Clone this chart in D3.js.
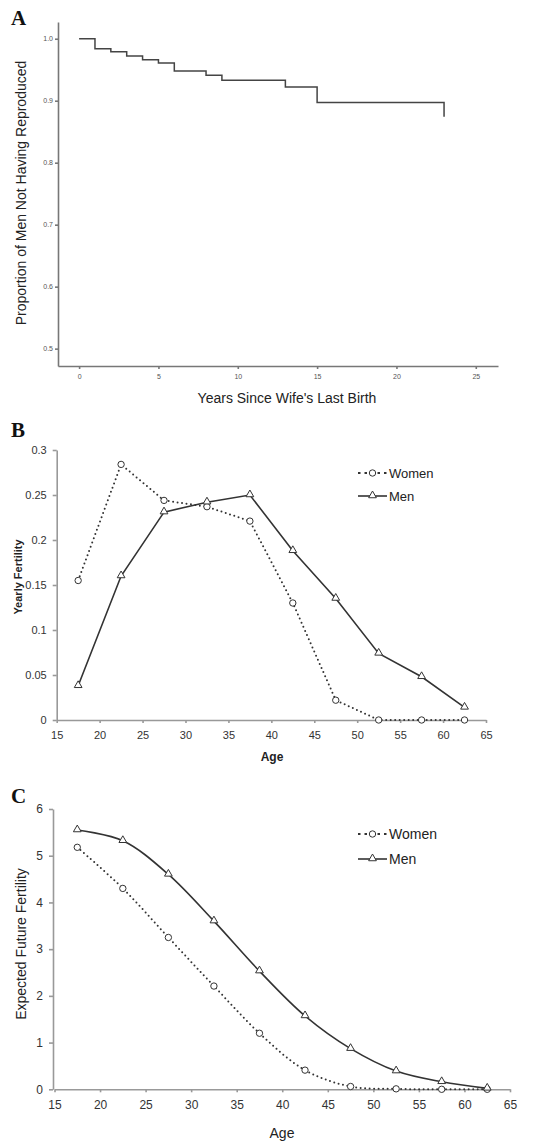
<!DOCTYPE html>
<html>
<head>
<meta charset="utf-8">
<script src="https://cdn.jsdelivr.net/npm/d3@7"></script>
<style>
  body { margin: 0; background: #fff; }
  svg { display: block; font-family: "Liberation Sans", Arial, sans-serif; }
  .panel-letter { font-family: "Liberation Serif", "Times New Roman", serif; font-weight: bold; font-size: 21px; fill: #111; }
  .axisA path, .axisA line { stroke: #777; stroke-width: 1.6; }
  .axisA text { font-size: 7px; fill: #555; }
  .axisBC path, .axisBC line { stroke: #999; stroke-width: 1.6; }
  .axisBC text { fill: #333; }
</style>
</head>
<body>
<svg width="552" height="1141"></svg>
<script>
// Panel A: survival curve (step function)
const stepYears = [0, 1, 2, 3, 4, 5, 6, 8, 9, 13, 15, 23];
const stepProportion = [1.0, 0.984, 0.979, 0.972, 0.966, 0.961, 0.948, 0.941, 0.933, 0.922, 0.897, 0.874];
const ticksAX = [0, 5, 10, 15, 20, 25];
const ticksAY = [0.5, 0.6, 0.7, 0.8, 0.9, 1.0];

// Panels B and C: age groups
const ages = [17.5, 22.5, 27.5, 32.5, 37.5, 42.5, 47.5, 52.5, 57.5, 62.5];
const yearlyWomen = [0.155, 0.284, 0.244, 0.237, 0.221, 0.130, 0.022, 0, 0, 0];
const yearlyMen = [0.038, 0.160, 0.231, 0.242, 0.250, 0.188, 0.135, 0.074, 0.048, 0.014];
const futureWomen = [5.18, 4.30, 3.25, 2.21, 1.20, 0.41, 0.06, 0.01, 0, 0];
const futureMen = [5.55, 5.32, 4.60, 3.60, 2.53, 1.57, 0.87, 0.39, 0.16, 0.02];
const ticksAge = [15, 20, 25, 30, 35, 40, 45, 50, 55, 60, 65];
const ticksBY = [0, 0.05, 0.1, 0.15, 0.2, 0.25, 0.3];
const ticksBLabels = ["0", "0.05", "0.1", "0.15", "0.2", "0.25", "0.3"];
const ticksCY = [0, 1, 2, 3, 4, 5, 6];
const seriesNames = ["Women", "Men"];

const svg = d3.select("svg");
const ink = "#333";

// ---------- Panel A ----------
const xA = d3.scaleLinear().domain([-1.33, 26.4]).range([58, 498]);
const yA = d3.scaleLinear().domain([0.472, 1.027]).range([366, 22]);

svg.append("text").attr("class", "panel-letter").attr("x", 11).attr("y", 25).text("A");

svg.append("g")
    .attr("class", "axisA")
    .attr("transform", "translate(0,366)")
    .call(d3.axisBottom(xA).tickValues(ticksAX).tickSize(3).tickSizeOuter(0).tickPadding(5))
    .call(g => g.selectAll(".tick line").attr("stroke-width", 1));

svg.append("g")
    .attr("class", "axisA")
    .attr("transform", "translate(58,0)")
    .call(d3.axisLeft(yA).tickValues(ticksAY).tickFormat(d3.format(".1f")).tickSize(3).tickSizeOuter(0).tickPadding(2))
    .call(g => g.selectAll(".tick line").attr("stroke-width", 1));

const stepData = stepYears.map((d, i) => ({ x: d, y: stepProportion[i] }));
svg.append("path")
    .datum(stepData)
    .attr("fill", "none")
    .attr("stroke", "#444")
    .attr("stroke-width", 1.5)
    .attr("d", d3.line().x(d => xA(d.x)).y(d => yA(d.y)).curve(d3.curveStepAfter));

svg.append("text")
    .attr("transform", "translate(26,193) rotate(-90)")
    .attr("text-anchor", "middle")
    .attr("font-size", 14)
    .attr("fill", "#222")
    .text("Proportion of Men Not Having Reproduced");

svg.append("text")
    .attr("x", 287).attr("y", 403)
    .attr("text-anchor", "middle")
    .attr("font-size", 14)
    .attr("fill", "#222")
    .text("Years Since Wife's Last Birth");

// ---------- helpers for B and C ----------
function drawSeries(g, x, y, values, women, curve) {
    const pts = ages.map((a, i) => ({ x: a, y: values[i] }));
    g.append("path")
        .datum(pts)
        .attr("fill", "none")
        .attr("stroke", ink)
        .attr("stroke-width", women ? 2 : 1.6)
        .attr("stroke-linecap", "round")
        .attr("stroke-dasharray", women ? "0,4.5" : null)
        .attr("d", d3.line().x(d => x(d.x)).y(d => y(d.y)).curve(curve));
    drawMarkers(g, pts.map(d => [x(d.x), y(d.y)]), women);
}

function drawMarkers(g, coords, women) {
    const sym = women ? d3.symbolCircle : d3.symbolTriangle;
    const size = women ? 32 : 26;
    g.selectAll(null)
        .data(coords)
        .join("path")
        .attr("transform", d => `translate(${d[0]},${d[1] + (women ? 0 : -0.5)})`)
        .attr("d", d3.symbol().type(sym).size(size))
        .attr("fill", "#fff")
        .attr("stroke", ink)
        .attr("stroke-width", 1);
}

function drawLegend(g, x0, yWomen, yMen, fontSize) {
    seriesNames.forEach((name, i) => {
        const women = i === 0;
        const yy = women ? yWomen : yMen;
        g.append("line")
            .attr("x1", x0).attr("x2", x0 + 29)
            .attr("y1", yy).attr("y2", yy)
            .attr("stroke", ink)
            .attr("stroke-width", women ? 2 : 1.6)
            .attr("stroke-dasharray", women ? "2.5,4" : null);
        drawMarkers(g, [[x0 + 14.5, yy]], women);
        g.append("text")
            .attr("x", x0 + 31).attr("y", yy)
            .attr("dy", "0.35em")
            .attr("font-size", fontSize)
            .attr("fill", "#222")
            .text(name);
    });
}

// ---------- Panel B ----------
const xB = d3.scaleLinear().domain([15, 65]).range([56.7, 486]);
const yB = d3.scaleLinear().domain([0, 0.3]).range([720, 450]);

svg.append("text").attr("class", "panel-letter").attr("x", 11).attr("y", 437).text("B");

svg.append("g")
    .attr("class", "axisBC")
    .attr("transform", "translate(0,720)")
    .call(d3.axisBottom(xB).tickValues(ticksAge).tickSize(3).tickSizeOuter(0).tickPadding(8))
    .call(g => g.selectAll("text").attr("font-size", 11))
    .call(g => g.selectAll(".tick line").attr("stroke-width", 1));

svg.append("g")
    .attr("class", "axisBC")
    .attr("transform", "translate(56.7,0)")
    .call(d3.axisLeft(yB).tickValues(ticksBY).tickFormat((d, i) => ticksBLabels[i]).tickSize(4).tickSizeOuter(0).tickPadding(6))
    .call(g => g.selectAll("text").attr("font-size", 11))
    .call(g => g.selectAll(".tick line").attr("stroke-width", 1));

const gB = svg.append("g");
drawSeries(gB, xB, yB, yearlyWomen, true, d3.curveLinear);
drawSeries(gB, xB, yB, yearlyMen, false, d3.curveLinear);
drawLegend(gB, 358, 473, 496, 13);

svg.append("text")
    .attr("transform", "translate(22,577) rotate(-90)")
    .attr("text-anchor", "middle")
    .attr("font-size", 11)
    .attr("font-weight", "bold")
    .attr("fill", "#222")
    .text("Yearly Fertility");

svg.append("text")
    .attr("x", 272).attr("y", 761)
    .attr("text-anchor", "middle")
    .attr("font-size", 12)
    .attr("font-weight", "bold")
    .attr("fill", "#222")
    .text("Age");

// ---------- Panel C ----------
const xC = d3.scaleLinear().domain([15, 65]).range([54.5, 510]);
const yC = d3.scaleLinear().domain([0, 6]).range([1089.3, 809]);

svg.append("text").attr("class", "panel-letter").attr("x", 11).attr("y", 803).text("C");

svg.append("g")
    .attr("class", "axisBC")
    .attr("transform", "translate(0,1089.3)")
    .call(d3.axisBottom(xC).tickValues(ticksAge).tickSize(3).tickSizeOuter(0).tickPadding(8))
    .call(g => g.selectAll("text").attr("font-size", 12))
    .call(g => g.selectAll(".tick line").attr("stroke-width", 1));

svg.append("g")
    .attr("class", "axisBC")
    .attr("transform", "translate(53,0)")
    .call(d3.axisLeft(yC).tickValues(ticksCY).tickFormat(d3.format("d")).tickSize(4).tickSizeOuter(0).tickPadding(6))
    .call(g => g.selectAll("text").attr("font-size", 12))
    .call(g => g.selectAll(".tick line").attr("stroke-width", 1));

const gC = svg.append("g");
drawSeries(gC, xC, yC, futureWomen, true, d3.curveCatmullRom.alpha(0.5));
drawSeries(gC, xC, yC, futureMen, false, d3.curveCatmullRom.alpha(0.5));
drawLegend(gC, 358, 834, 859, 14);

svg.append("text")
    .attr("transform", "translate(26,944) rotate(-90)")
    .attr("text-anchor", "middle")
    .attr("font-size", 14)
    .attr("fill", "#222")
    .text("Expected Future Fertility");

svg.append("text")
    .attr("x", 282).attr("y", 1138)
    .attr("text-anchor", "middle")
    .attr("font-size", 14)
    .attr("fill", "#222")
    .text("Age");
</script>
</body>
</html>
